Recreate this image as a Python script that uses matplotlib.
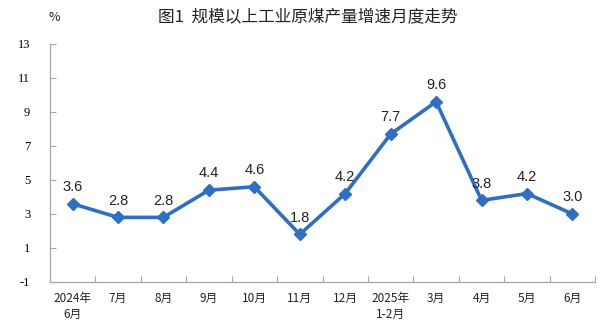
import matplotlib
matplotlib.use("Agg")
import matplotlib.pyplot as plt

plt.rcParams['font.family'] = ['Noto Sans CJK SC', 'DejaVu Sans']

months = ['2024年\n6月', '7月', '8月', '9月', '10月', '11月', '12月',
          '2025年\n1-2月', '3月', '4月', '5月', '6月']
growth = [3.6, 2.8, 2.8, 4.4, 4.6, 1.8, 4.2, 7.7, 9.6, 3.8, 4.2, 3.0]
yticks = [-1, 1, 3, 5, 7, 9, 11, 13]

line_color = '#2f6fc2'
axis_color = '#a6a6a6'

fig = plt.figure(figsize=(6, 3.23), dpi=100)
ax = fig.add_axes([0.083, 0.127, 0.909, 0.737])

x = list(range(len(months)))
ax.plot(x, growth, color=line_color, linewidth=2.6, marker='D',
        markersize=6, zorder=3)
for xi, v in zip(x, growth):
    ax.annotate(f'{v:.1f}', (xi, v), xytext=(0, 7), textcoords='offset points',
                ha='center', va='bottom', fontsize=10.5,
                family=['Liberation Sans'], color='#222222')

ax.set_xlim(-0.5, len(months) - 0.5)
ax.set_ylim(-1, 13)
ax.set_yticks(yticks)
ax.set_yticklabels([str(t) for t in yticks], family=['Liberation Serif'],
                   fontsize=9)
ax.set_xticks([i + 0.5 for i in x])
ax.set_xticklabels([])
ax.tick_params(axis='both', direction='in', color=axis_color, length=4,
               width=0.8)
ax.tick_params(axis='y', pad=14)
for i, lab in enumerate(months):
    ax.text(i, -1.6, lab, ha='center', va='top', fontsize=8.5,
            linespacing=1.3, color='#222222')

for side in ['top', 'right']:
    ax.spines[side].set_visible(False)
for side in ['left', 'bottom']:
    ax.spines[side].set_color(axis_color)
    ax.spines[side].set_linewidth(0.9)

fig.text(0.513, 0.945, '图1  规模以上工业原煤产量增速月度走势', ha='center',
         va='center', fontsize=12, fontweight='medium', color='#222222')
fig.text(0.09, 0.945, '%', ha='center', va='center', fontsize=9,
         color='#222222')

fig.savefig('out.png', dpi=100)
